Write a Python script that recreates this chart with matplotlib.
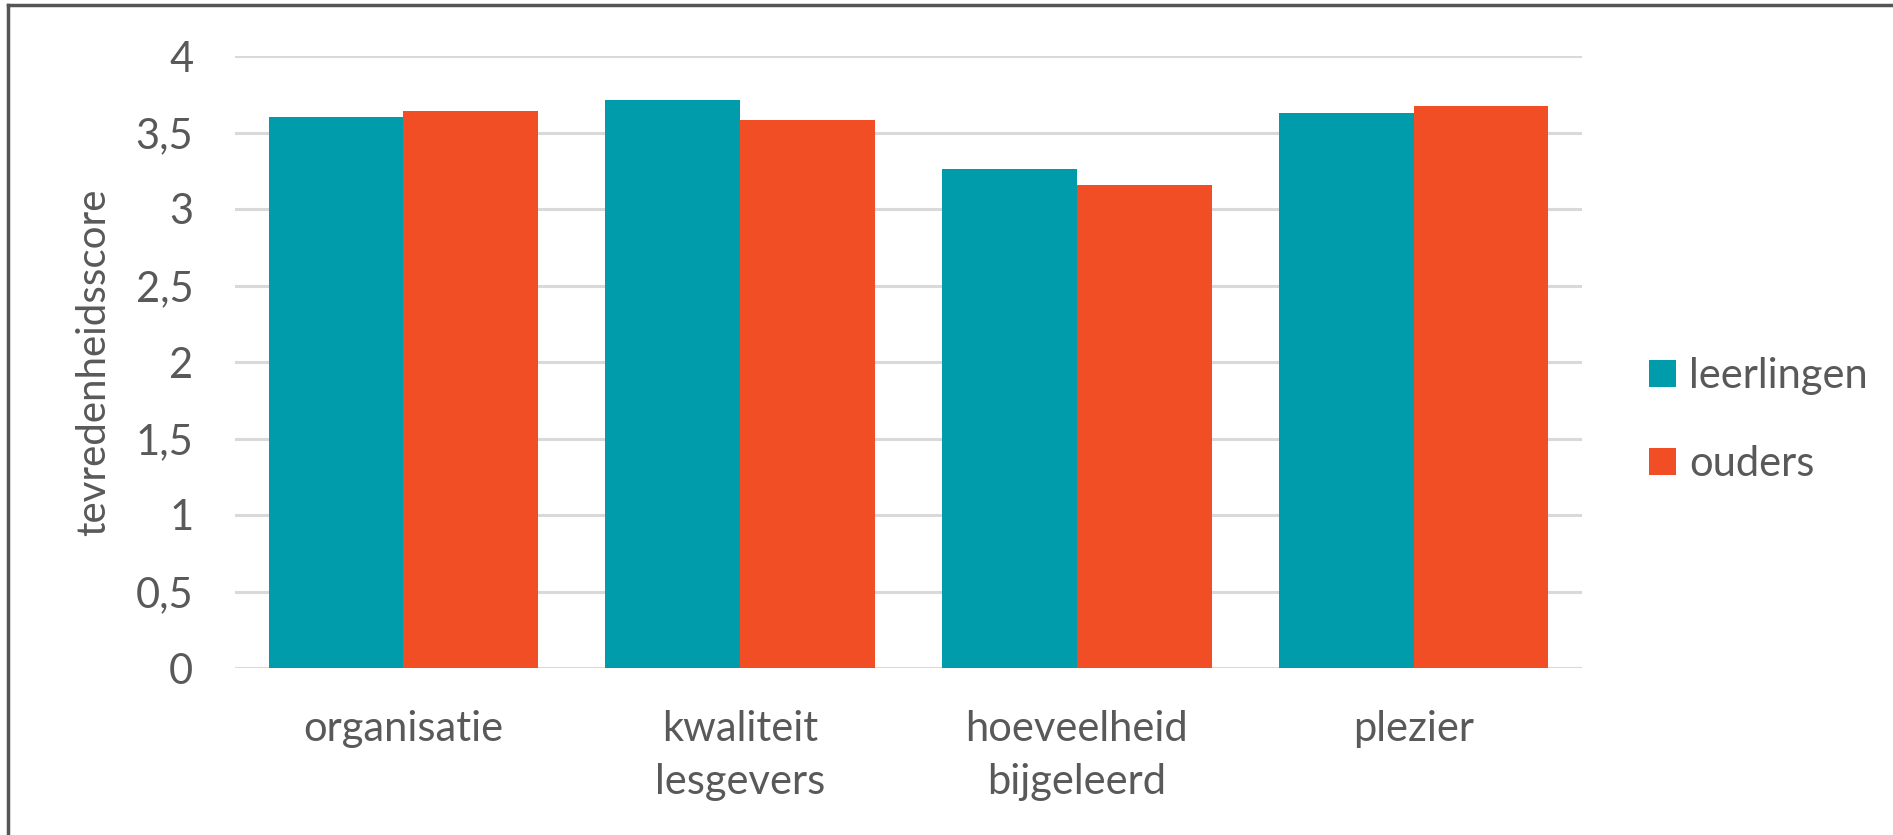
import matplotlib.pyplot as plt
import numpy as np
from matplotlib.lines import Line2D

categories = ['organisatie', 'kwaliteit\nlesgevers', 'hoeveelheid\nbijgeleerd', 'plezier']
leerlingen = [3.60, 3.71, 3.26, 3.63]
ouders = [3.64, 3.58, 3.155, 3.67]
yticks = [0, 0.5, 1, 1.5, 2, 2.5, 3, 3.5, 4]
yticklabels = ['0', '0,5', '1', '1,5', '2', '2,5', '3', '3,5', '4']

teal = '#009CAB'
orange = '#F14E25'
grey = '#595959'

plt.rcParams['font.family'] = ['Lato', 'DejaVu Sans']

fig = plt.figure(figsize=(18.93, 8.35), dpi=100)
ax = fig.add_axes([235/1893, 1 - 668/835, (1582-235)/1893, (668-56)/835])

x = np.arange(len(categories))
w = 0.4
ax.bar(x - w/2, leerlingen, w, color=teal, label='leerlingen', zorder=3)
ax.bar(x + w/2, ouders, w, color=orange, label='ouders', zorder=3)

ax.set_xlim(-0.5, len(categories) - 0.5)
ax.set_ylim(0, 4)
ax.set_yticks(yticks)
ax.set_yticklabels(yticklabels)
ax.set_xticks(x)
ax.set_xticklabels(categories, linespacing=1.5)
ax.tick_params(axis='both', length=0, labelsize=30, colors=grey)
ax.tick_params(axis='y', pad=30)
ax.tick_params(axis='x', pad=30)
ax.grid(axis='y', color='#D9D9D9', lw=2.2, zorder=0)
for s in ax.spines.values():
    s.set_visible(False)
ax.set_ylabel('tevredenheidsscore', fontsize=29, color=grey, labelpad=17)

leg = ax.legend(loc='center left', bbox_to_anchor=(1.05, 0.405), frameon=False,
                fontsize=30, handlelength=0.65, handleheight=0.65,
                handletextpad=0.3, labelspacing=1.2, labelcolor=grey,
                borderaxespad=0, borderpad=0)

# frame lines at top and left of the picture
fig.add_artist(Line2D([8/1893, 8/1893], [0, 1 - 5/835], color='#555555', lw=2.5))
fig.add_artist(Line2D([8/1893, 1], [1 - 5/835, 1 - 5/835], color='#555555', lw=2.5))

fig.savefig('out.png', dpi=100)
